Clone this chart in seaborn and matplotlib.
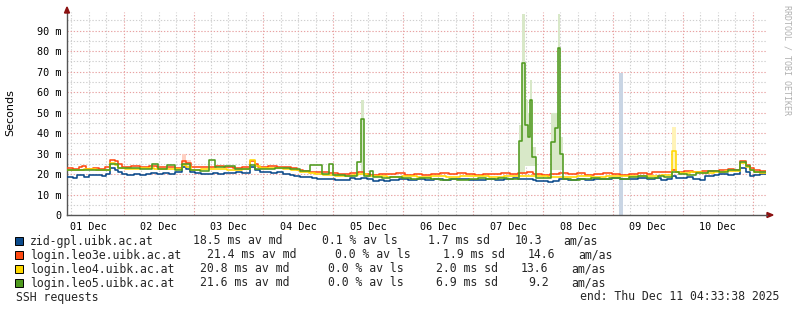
import matplotlib
matplotlib.use("Agg")
import matplotlib.pyplot as plt
import seaborn as sns
from matplotlib.patches import Rectangle, Polygon

# ---------------- data (hours since Dec 1 04:33:38, value in ms) ----------------
START_HOUR_OF_DAY = 4 + 33 / 60 + 38 / 3600
SPAN_HOURS = 240
day_labels = ["01 Dec", "02 Dec", "03 Dec", "04 Dec", "05 Dec",
              "06 Dec", "07 Dec", "08 Dec", "09 Dec", "10 Dec"]

hosts = ["zid-gpl.uibk.ac.at", "login.leo3e.uibk.ac.at",
         "login.leo4.uibk.ac.at", "login.leo5.uibk.ac.at"]
av_md = ["18.5", "21.4", "20.8", "21.6"]
av_ls = ["0.1", "0.0", "0.0", "0.0"]
sd = ["1.7", "1.9", "2.0", "6.9"]
amas = ["10.3", "14.6", "13.6", "9.2"]
colors = ["#0b4a8b", "#ff4a12", "#ffd800", "#4f9a1e"]
smoke_colors = ["#c9d5e4", "#ffd0c2", "#fff3b8", "#d8e8c8"]

blue_t = [0, 2, 3.4, 6, 7.5, 10, 12, 13.5, 14.8, 16.5, 17.5, 19, 20.5, 23, 25,
          27, 29, 31, 33, 35, 37, 39.5, 41, 42.2, 44, 46, 48, 50, 52, 54, 56,
          58, 60, 62.8, 64.5, 66.3, 68, 70, 72, 74, 76.6, 78, 80, 82, 84, 86,
          88, 90, 92, 95, 97, 99, 101, 103, 105, 107, 109, 111, 114, 117, 120,
          123, 126, 129, 132, 135, 138, 141, 144, 147, 150, 153, 155, 158, 160,
          161, 163, 165, 167, 169, 172, 175, 178, 181, 184, 187, 190, 193, 196,
          199, 202, 204, 206, 207.7, 209, 211, 213, 215, 217.3, 219.1, 222,
          224, 227, 229, 231.1, 233, 234.5, 236, 238]
blue_v = [18.7, 18.3, 19.3, 18.6, 19.4, 19.6, 19.2, 19.8, 22.8, 21.8, 20.8, 20,
          19.5, 19.8, 19.5, 20, 20.3, 20, 20.4, 20.2, 20.8, 23.5, 22.5, 21,
          20.6, 20.2, 20, 20.4, 20.2, 20.6, 20.3, 20.8, 20.5, 23.3, 22, 21.2,
          21, 20.5, 20.8, 20.2, 19.6, 19, 18.4, 18.7, 18, 17.8, 17.4, 17.8,
          17.2, 17, 18, 17.6, 18.2, 17.4, 16.5, 17, 16.4, 17.3, 17.6, 17, 17.5,
          17.2, 17.6, 17, 17.4, 17.8, 17.3, 17, 17.6, 17.2, 17.5, 18, 17.4,
          17.8, 17.3, 16.4, 16.8, 16.2, 16.8, 17.5, 17.2, 17.7, 17.3, 17.8,
          17.5, 18, 17.4, 17.8, 18.2, 17.6, 18, 17.3, 17.6, 19, 18.2, 18, 18.4,
          17.8, 17, 19, 19.4, 19.8, 19.6, 20, 23, 21, 19, 19.5, 19.8]

orange_t = [0, 2, 4, 5, 6.5, 9, 11, 13, 14.8, 16.5, 17.5, 19, 22, 25, 28, 31,
            34, 37, 39.5, 41, 42.5, 45, 48, 51, 54, 57, 60, 62.8, 64.5, 65.5,
            69, 72, 75, 77, 79, 81, 83, 85, 88, 90, 93, 95, 97, 100, 102, 104,
            107, 110, 113, 116, 119, 122, 125, 128, 131, 134, 137, 140, 143,
            146, 149, 152, 155, 158, 160, 163, 166, 169, 172, 175, 178, 181,
            184, 187, 190, 193, 196, 199, 201, 204, 207.7, 209.1, 212, 215,
            218, 221, 224, 227, 229, 231.1, 233, 234.5, 236, 238]
orange_v = [23, 22.6, 23.3, 24, 22.6, 23, 22.7, 23.2, 27, 26.2, 25, 23.6, 23.8,
            23.4, 23.7, 23.3, 23.6, 23.1, 26.5, 25.5, 23.2, 23.6, 23.3, 23.8,
            23.4, 23, 23.3, 26.2, 25, 23.5, 23.7, 23.2, 23.4, 22.8, 22.2, 21.6,
            21.2, 20.8, 21.2, 20.5, 20.2, 19.8, 20.5, 21, 20.2, 19.6, 20.1,
            19.8, 20.3, 19.7, 20.2, 19.6, 20, 20.5, 19.8, 20.3, 20, 19.7, 20.2,
            19.8, 20.4, 19.9, 20.5, 20.8, 20.2, 19.7, 20.2, 20.6, 19.8, 20.3,
            19.7, 20.1, 20.6, 20, 19.7, 20.2, 20.6, 20.2, 20.8, 21.2, 22, 21,
            21.4, 21, 21.6, 21.3, 22, 22.3, 22, 26.5, 24.5, 23, 22, 21.5]

yellow_t = [0, 3, 6, 10, 14.8, 16.5, 17.5, 20, 25, 30, 35, 39.5, 41, 42.5, 46,
            50, 55, 60, 62.8, 64.5, 66.3, 70, 74, 77, 80, 83, 85, 88, 92, 95,
            98, 100, 103, 106, 110, 115, 120, 125, 130, 135, 140, 145, 150, 155,
            160, 165, 170, 175, 180, 185, 190, 195, 200, 204, 207.7, 209.1,
            210.4, 214, 218, 222, 226, 231.1, 233, 234.5, 236, 238]
yellow_v = [22, 21.8, 22.3, 22, 25.5, 24.5, 23, 22.5, 22.8, 22.4, 22.7, 24.5,
            23.5, 22, 22.4, 22.6, 22.2, 22.5, 27, 24, 22.8, 23, 22.5, 22, 21,
            20.5, 20, 19.6, 19.2, 19, 19.6, 20, 19.2, 19, 18.7, 19.1, 18.6, 19,
            18.6, 19, 18.8, 18.4, 18.8, 19.2, 18.8, 18.4, 18.6, 19, 18.5, 18.9,
            18.8, 19.2, 19, 19.5, 31, 21, 20.5, 20.8, 20.4, 21, 21.4, 25.5, 23.5,
            22, 21, 20.5]

green_t = [0, 14.8, 17.5, 25, 29.2, 31.2, 34.3, 37.1, 39.5, 42.2, 45.7, 48.8,
           50.8, 54.2, 57.7, 62.8, 64.5, 71.4, 76.6, 80, 83.4, 87.6, 90, 91.3,
           95.5, 99.6, 100.9, 102, 104, 105.1, 108, 111, 115, 118, 121, 125,
           128, 131, 134, 138, 141, 144, 148, 151, 155.2, 156.2, 157.3, 158.3,
           159, 159.7, 161, 166.2, 167.6, 168.6, 169.3, 170.3, 173, 176, 180,
           183, 186, 190, 193, 196, 199, 203, 205, 207.7, 210, 213, 216, 220,
           224, 227, 231.1, 233, 234.5, 236]
green_v = [22, 25, 23, 22.5, 25, 22.5, 24.5, 22, 25, 22, 21.5, 27, 23.5, 24,
           22.5, 24.5, 22.5, 23, 22.5, 21.5, 24.5, 20, 25, 19.5, 19, 26, 47, 19,
           21.5, 18.5, 18, 18.4, 18, 17.6, 17.9, 17.4, 17, 17.5, 17.2, 17.8,
           18.2, 17.7, 18, 17.6, 36, 74, 44, 38, 56, 28.5, 18, 35.5, 42.5, 81.5,
           30, 17.5, 17.2, 17.8, 18.2, 17.7, 18.3, 17.8, 18.5, 18.8, 18.3, 19,
           18.6, 21, 20, 19.5, 20.3, 21.5, 21, 21.8, 26, 24, 22, 21]

# smoke (spread of individual pings) where it is clearly visible
green_smoke_t = [100.9, 102, 155.2, 156.2, 157.3, 158.3, 159, 159.7, 161,
                 166.2, 167.6, 168.6, 169.3, 170.3]
green_smoke_lo = [20, 20, 20, 20, 24, 24, 24, 24, 20, 22, 22, 22, 22, 20]
green_smoke_hi = [56, 20, 44, 98, 56, 50, 66, 33, 20, 50, 50, 98, 38, 20]
blue_smoke_t = [189.5, 190.8]
blue_smoke_lo = [0, 0]
blue_smoke_hi = [69.5, 0]
yellow_smoke_t = [207.7, 209.1]
yellow_smoke_lo = [22, 22]
yellow_smoke_hi = [43, 22]
orange_smoke_t = [39.5, 41, 42.5]
orange_smoke_lo = [23, 23, 23]
orange_smoke_hi = [30, 27, 23]

series_t = [blue_t, orange_t, yellow_t, green_t]
series_v = [blue_v, orange_v, yellow_v, green_v]

# ---------------- figure ----------------
W, H = 797, 311
sns.set_theme(style="white")
plt.rcParams["font.family"] = ["DejaVu Sans Mono", "DejaVu Sans"]
fig = plt.figure(figsize=(W / 100, H / 100), dpi=100, facecolor="white")

def fx(x):
    return x / W

def fy(y):
    return 1 - y / H

X0, X1, Y0, Y1 = 67, 766, 215, 12
YMAX = 99.1
ax = fig.add_axes([fx(X0), fy(Y0), (X1 - X0) / W, (Y0 - Y1) / H])
ax.set_facecolor("white")
ax.set_xlim(0, SPAN_HOURS)
ax.set_ylim(0, YMAX)

# grid
first_midnight = 24 - START_HOUR_OF_DAY
minor_x = [h for h in [first_midnight - 24 + 6 * k for k in range(45)] if 0 < h < SPAN_HOURS]
major_x = [h for h in [first_midnight + 24 * k for k in range(11)] if 0 < h < SPAN_HOURS]
for h in minor_x:
    if h not in major_x:
        ax.axvline(h, color="#cfcfcf", lw=0.8, ls=(0, (1.2, 1.6)), zorder=0)
for v in range(5, 100, 10):
    ax.axhline(v, color="#cfcfcf", lw=0.8, ls=(0, (1.2, 1.6)), zorder=0)
for h in major_x:
    ax.axvline(h, color="#e8a3a3", lw=0.8, ls=(0, (1.2, 1.6)), zorder=0)
for v in range(10, 100, 10):
    ax.axhline(v, color="#e8a3a3", lw=0.8, ls=(0, (1.2, 1.6)), zorder=0)

# smoke
def smoke(t, lo, hi, c):
    ax.fill_between(t, lo, hi, step="post", color=c, lw=0, zorder=1)

smoke(blue_smoke_t, blue_smoke_lo, blue_smoke_hi, smoke_colors[0])
smoke(orange_smoke_t, orange_smoke_lo, orange_smoke_hi, smoke_colors[1])
smoke(yellow_smoke_t, yellow_smoke_lo, yellow_smoke_hi, smoke_colors[2])
smoke(green_smoke_t, green_smoke_lo, green_smoke_hi, smoke_colors[3])

# median lines
for t, v, c in zip(series_t, series_v, colors):
    tt = list(t) + [SPAN_HOURS]
    vv = list(v) + [v[-1]]
    sns.lineplot(x=tt, y=vv, ax=ax, color=c, lw=1.15, drawstyle="steps-post",
                 estimator=None, sort=False, zorder=3)

# axes
for s in ["top", "right"]:
    ax.spines[s].set_visible(False)
for s in ["left", "bottom"]:
    ax.spines[s].set_color("#555555")
    ax.spines[s].set_linewidth(1.0)
ax.spines["bottom"].set_zorder(4)

ax.set_yticks(range(0, 100, 10))
ax.set_yticklabels(["0"] + [f"{v} m" for v in range(10, 100, 10)])
ax.set_xticks([first_midnight - 12 + 24 * k for k in range(len(day_labels))])
ax.set_xticklabels(day_labels)
ax.tick_params(axis="both", labelsize=7.3, colors="#000000", length=2,
               width=0.8, pad=2, direction="out")
ax.tick_params(axis="x", length=0, pad=5)
ax.set_xticks(minor_x, minor=True)
ax.tick_params(axis="x", which="minor", length=2, width=0.8, color="#555555")
ax.set_xlabel("")
ax.set_ylabel("")

# arrows
fig.add_artist(Polygon([(fx(767), fy(212.5)), (fx(767), fy(217.5)), (fx(773), fy(215))],
                       closed=True, transform=fig.transFigure, color="#8b1010"))
fig.add_artist(plt.Line2D([fx(766), fx(767)], [fy(215), fy(215)],
                          transform=fig.transFigure, color="#555555", lw=1))
fig.add_artist(Polygon([(fx(64.5), fy(13)), (fx(69.5), fy(13)), (fx(67), fy(7))],
                       closed=True, transform=fig.transFigure, color="#8b1010"))

# side labels
fig.text(fx(10.5), fy(113), "Seconds", rotation=90, ha="center", va="center",
         fontsize=8, family="DejaVu Sans", color="#000000")
fig.text(fx(787), fy(5), "RRDTOOL / TOBI OETIKER", rotation=270, ha="center",
         va="top", fontsize=6, color="#b0b0b0")

# legend
rows_y = [241, 255, 269, 283]
col_x = [[193, 322, 428, 515, 563],
         [207, 335, 443, 528, 578],
         [200, 328, 436, 521, 571],
         [200, 328, 436, 528, 571]]
LFS = 8.3
for i in range(4):
    y = rows_y[i]
    fig.add_artist(Rectangle((fx(15), fy(y + 4)), 8 / W, 8 / H, transform=fig.transFigure,
                             facecolor=colors[i], edgecolor="#000000", lw=0.7))
    fig.text(fx(30), fy(y), hosts[i], ha="left", va="center", fontsize=LFS)
    parts = [f"{av_md[i]} ms av md", f"{av_ls[i]} % av ls", f"{sd[i]} ms sd",
             amas[i], "am/as"]
    for x, p in zip(col_x[i], parts):
        fig.text(fx(x), fy(y), p, ha="left", va="center", fontsize=LFS)
fig.text(fx(16), fy(297), "SSH requests", ha="left", va="center", fontsize=LFS)
fig.text(fx(779), fy(297), "end: Thu Dec 11 04:33:38 2025", ha="right",
         va="center", fontsize=LFS)

fig.savefig("out.png", dpi=100, facecolor="white")
